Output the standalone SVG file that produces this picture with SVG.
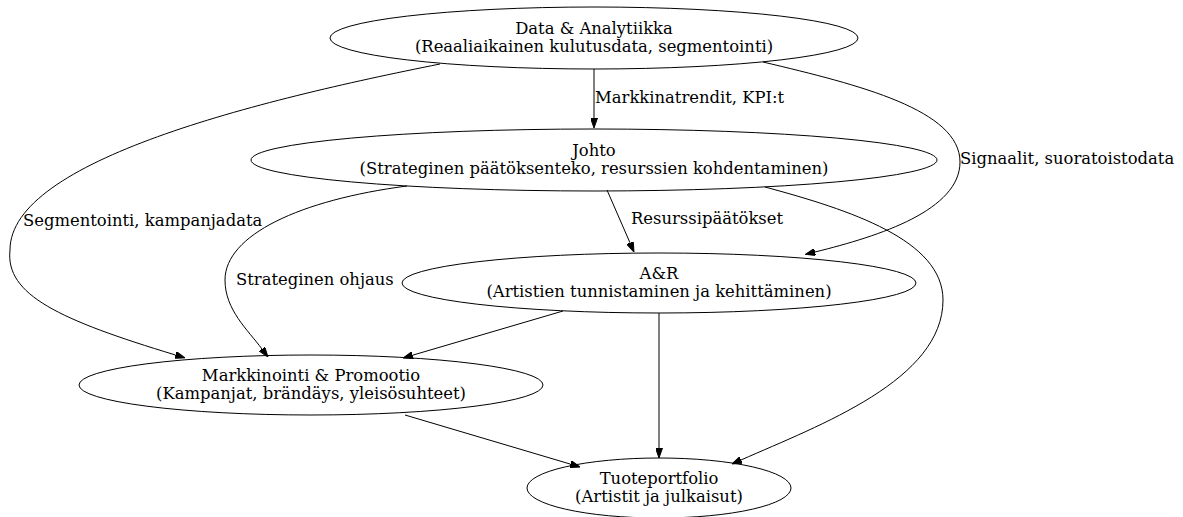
<svg xmlns="http://www.w3.org/2000/svg" width="1183" height="517" viewBox="0 0 1183 517">
  <style>
    .node ellipse { fill: none; stroke: #000; stroke-width: 1; }
    text { font-family: "DejaVu Serif", "Liberation Serif", serif; font-size: 16.4px; fill: #000; }
    .node text { text-anchor: middle; }
    .edge path { fill: none; stroke: #000; stroke-width: 1; marker-end: url(#arrow); }
  </style>
  <defs>
    <marker id="arrow" markerUnits="userSpaceOnUse" markerWidth="10" markerHeight="7" refX="0" refY="3.5" orient="auto">
      <path d="M0,0 L10,3.5 L0,7 z" fill="#000" stroke="#000" stroke-width="1"/>
    </marker>
  </defs>
  <rect width="1183" height="517" fill="#fff"/>

  <!-- connectors -->
  <g id="edges">
    <g class="edge" id="data-johto">
      <path d="M594,69 L594,118"/>
      <text x="595" y="103">Markkinatrendit, KPI:t</text>
    </g>
    <g class="edge" id="data-markkinointi">
      <path d="M440,64 C260,100 10,160 10,250 C5,295 60,320 175.5,355"/>
      <text x="23" y="226">Segmentointi, kampanjadata</text>
    </g>
    <g class="edge" id="data-ar">
      <path d="M763,62 C860,85 960,110 960,162 C960,210 880,236 815,252"/>
      <text x="960" y="164">Signaalit, suoratoistodata</text>
    </g>
    <g class="edge" id="johto-ar">
      <path d="M607,190 L630,242.8"/>
      <text x="631" y="224">Resurssipäätökset</text>
    </g>
    <g class="edge" id="johto-markkinointi">
      <path d="M407,186 C300,200 225,235 225,280 C225,310 248,330 262,349"/>
      <text x="236" y="285">Strateginen ohjaus</text>
    </g>
    <g class="edge" id="johto-tuote">
      <path d="M765,187 C850,210 943,240 943,300 C943,380 820,425 741,460"/>
    </g>
    <g class="edge" id="ar-markkinointi">
      <path d="M563,311 L412.6,355.2"/>
    </g>
    <g class="edge" id="ar-tuote">
      <path d="M659,313 L659,448"/>
    </g>
    <g class="edge" id="markkinointi-tuote">
      <path d="M405,415 L570.4,464.1"/>
    </g>
  </g>

  <!-- nodes -->
  <g class="node" id="data">
    <ellipse cx="594" cy="38" rx="264" ry="31"/>
    <text x="594" y="34">Data &amp; Analytiikka</text>
    <text x="594" y="52">(Reaaliaikainen kulutusdata, segmentointi)</text>
  </g>
  <g class="node" id="johto">
    <ellipse cx="594" cy="160" rx="343" ry="31"/>
    <text x="594" y="156">Johto</text>
    <text x="594" y="174">(Strateginen päätöksenteko, resurssien kohdentaminen)</text>
  </g>
  <g class="node" id="ar">
    <ellipse cx="659" cy="283" rx="257" ry="30"/>
    <text x="659" y="279">A&amp;R</text>
    <text x="659" y="297">(Artistien tunnistaminen ja kehittäminen)</text>
  </g>
  <g class="node" id="markkinointi">
    <ellipse cx="311" cy="385" rx="232" ry="30"/>
    <text x="311" y="381">Markkinointi &amp; Promootio</text>
    <text x="311" y="399">(Kampanjat, brändäys, yleisösuhteet)</text>
  </g>
  <g class="node" id="tuote">
    <ellipse cx="659" cy="488" rx="132" ry="30"/>
    <text x="659" y="484">Tuoteportfolio</text>
    <text x="659" y="502">(Artistit ja julkaisut)</text>
  </g>
</svg>
